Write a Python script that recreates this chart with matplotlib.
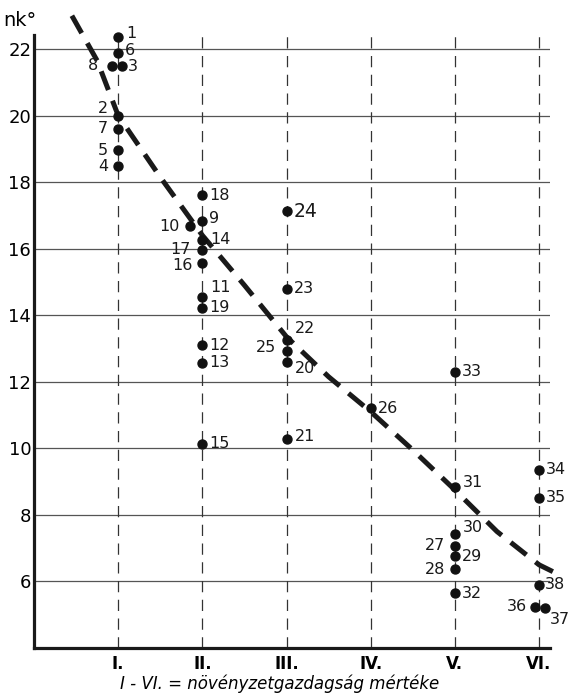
"""Recreation of the nk° vs. vegetation-richness scatter (I-VI classes)."""

import matplotlib
matplotlib.use("Agg")
import matplotlib.pyplot as plt

plt.rcParams["font.family"] = ["Liberation Sans Narrow", "DejaVu Sans"]

# numbered samples: class position (I..VI = 1..6, small offsets where drawn side by side) and nk°
POINT_IDS = list(range(1, 39))
POINT_X = [1.0, 1.0, 1.04, 1.0, 1.0, 1.0, 1.0, 0.93,
           2.0, 1.85, 2.0, 2.0, 2.0, 2.0, 2.0, 2.0, 2.0, 2.0, 2.0,
           3.0, 3.0, 3.0, 3.0, 3.0, 3.0,
           4.0,
           5.0, 5.0, 5.0, 5.0, 5.0, 5.0, 5.0,
           6.0, 6.0, 5.95, 6.07, 6.0]
POINT_Y = [22.35, 19.98, 21.5, 18.47, 18.95, 21.88, 19.6, 21.5,
           16.82, 16.67, 14.56, 13.1, 12.57, 16.25, 10.13, 15.58, 15.95, 17.6, 14.23,
           12.6, 10.28, 13.27, 14.8, 17.12, 12.93,
           11.2,
           7.08, 6.37, 6.76, 7.42, 8.84, 5.65, 12.3,
           9.35, 8.51, 5.22, 5.19, 5.89]

# hand-drawn trend curve
CURVE_X = [0.45, 0.75, 1.0, 1.5, 2.0, 2.5, 3.0, 3.5, 4.0, 4.5, 5.0, 5.5, 6.0, 6.2]
CURVE_Y = [23.0, 21.65, 20.0, 18.15, 16.4, 14.9, 13.35, 12.15, 11.1, 9.95, 8.75, 7.5, 6.5, 6.25]

CLASS_POS = [1, 2, 3, 4, 5, 6]
CLASS_LABELS = ["I.", "II.", "III.", "IV.", "V.", "VI."]
Y_TICKS = [6, 8, 10, 12, 14, 16, 18, 20, 22]

# label placement (pixel offsets from the dot); default is right of the dot
LABEL_OFFSETS = {
    1: (8, 4), 6: (7, 2), 3: (6, -1), 8: (-14, 0), 2: (-10, 8), 7: (-10, 0),
    5: (-10, 0), 4: (-10, 0), 9: (7, 3), 10: (-10, 0), 14: (8, 1),
    17: (-12, 1), 16: (-10, -3), 11: (8, 9),
    22: (8, 11), 25: (-10, 3), 20: (8, -7), 21: (8, 3), 31: (8, 4),
    30: (8, 7), 27: (-10, 0), 28: (-10, 0), 36: (-8, 1), 37: (5, -11),
    38: (6, 1),
}

Y_MIN, Y_MAX = 4.0, 22.42
X_MIN, X_MAX = 0.0, 6.13

fig = plt.figure(figsize=(5.72, 6.97), dpi=100)
ax = fig.add_axes([34 / 572, 49 / 697, 516 / 572, 613 / 697])
ax.set_xlim(X_MIN, X_MAX)
ax.set_ylim(Y_MIN, Y_MAX)

# grid: solid horizontals, dashed verticals at the classes
ax.hlines(Y_TICKS, X_MIN, X_MAX, color="#555555", lw=0.9, zorder=1)
ax.vlines(CLASS_POS, Y_MIN, Y_MAX, color="#333333", lw=0.9,
          linestyles=(0, (9, 6)), zorder=1)

ax.plot(CURVE_X, CURVE_Y, color="#1a1a1a", lw=3.6, dashes=(4, 2.3),
        solid_capstyle="butt", clip_on=False, zorder=3)
ax.scatter(POINT_X, POINT_Y, s=42, color="#111111", zorder=4, clip_on=False)

for pid, x, y in zip(POINT_IDS, POINT_X, POINT_Y):
    dx, dy = LABEL_OFFSETS.get(pid, (7, 0))
    ha = "right" if dx < 0 else "left"
    size = 13.5 if pid == 24 else 11.5
    ax.annotate(str(pid), (x, y), xytext=(dx, dy), textcoords="offset pixels",
                ha=ha, va="center", fontsize=size, color="#1a1a1a", zorder=5,
                annotation_clip=False)

for side in ("top", "right"):
    ax.spines[side].set_visible(False)
for side in ("left", "bottom"):
    ax.spines[side].set_linewidth(2.3)
    ax.spines[side].set_color("#1a1a1a")

ax.set_yticks(Y_TICKS)
ax.set_yticklabels([str(v) for v in Y_TICKS], fontsize=13)
ax.set_xticks(CLASS_POS)
ax.set_xticklabels(CLASS_LABELS, fontsize=12, fontweight="bold")
ax.tick_params(axis="both", length=0)
ax.tick_params(axis="y", pad=2)
ax.tick_params(axis="x", pad=5)

fig.text(3 / 572, 1 - 20 / 697, "nk°", fontsize=14, ha="left", va="center")
fig.text(280 / 572, 1 - 684 / 697, "I - VI. = növényzetgazdagság mértéke",
         fontsize=12, style="italic", ha="center", va="center")

fig.savefig("out.png", dpi=100)
